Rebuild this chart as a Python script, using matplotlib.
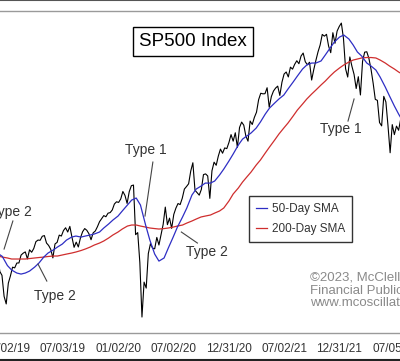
import matplotlib
matplotlib.use('Agg')
import matplotlib.pyplot as plt
import matplotlib.dates as mdates
from matplotlib.lines import Line2D
import pandas as pd

plt.rcParams['font.family'] = ['Liberation Sans', 'DejaVu Sans']

# weekly S&P 500 readings (Friday slots)
close_2018 = [2760, 2633, 2600, 2417, 2351]
close_2019 = [2532, 2596, 2671, 2665,
              2707, 2708, 2776, 2793,
              2804, 2743, 2822, 2801, 2834,
              2893, 2907, 2905, 2940,
              2946, 2881, 2860, 2826, 2752,
              2873, 2887, 2950, 2942,
              2990, 3014, 2977, 3026,
              2932, 2844, 2889, 2847, 2926,
              2979, 3007, 2992, 2962,
              2910, 2970, 2986, 3023,
              3067, 3093, 3120, 3110, 3141,
              3146, 3169, 3221, 3240]
close_2020 = [3235, 3265, 3330, 3295, 3226,
              3328, 3380, 3386, 2954,
              2972, 2711, 2237, 2541,
              2489, 2790, 2875, 2837,
              2831, 2930, 2864, 2955, 3044,
              3194, 3041, 3098, 3009,
              3130, 3185, 3225, 3216, 3271,
              3351, 3373, 3397, 3508,
              3580, 3341, 3319, 3298,
              3348, 3477, 3483, 3465, 3270,
              3510, 3585, 3558, 3638,
              3699, 3663, 3709, 3703]
close_2021 = [3756, 3825, 3768, 3841, 3714,
              3887, 3934, 3907, 3811,
              3768, 3943, 3913, 3975,
              4020, 4129, 4185, 4180, 4181,
              4233, 4063, 4156, 4204,
              4230, 4247, 4166, 4281,
              4352, 4370, 4327, 4412, 4395,
              4437, 4468, 4442, 4509,
              4535, 4459, 4433, 4455,
              4300, 4391, 4471, 4545, 4605,
              4697, 4682, 4698, 4595,
              4538, 4712, 4620, 4726, 4766]
close_2022 = [4796, 4663, 4398, 4326,
              4501, 4419, 4349, 4226,
              4329, 4170, 4463, 4543,
              4546, 4488, 4393, 4272, 4132,
              4123, 3930, 3901, 4158,
              4109, 3901, 3667, 3912,
              3825, 3899, 3863, 3962]

# moving averages read at the 1st and 15th of each month
sma50 = [2790, 2765,
         2685, 2646, 2620, 2611, 2620, 2637, 2672, 2707, 2759, 2794, 2820, 2846,
         2872, 2907, 2933, 2942, 2933, 2942, 2951, 2960, 2977, 3012, 3047, 3081,
         3116, 3160, 3212, 3255, 3273, 3212, 3038, 2907, 2785, 2724, 2751, 2838,
         2933, 3020, 3108, 3186, 3299, 3351, 3377, 3403, 3403, 3421, 3473, 3525,
         3595, 3656, 3734, 3786, 3813, 3839, 3882, 3935, 4004, 4056, 4100, 4135,
         4169, 4222, 4283, 4335, 4396, 4431, 4448, 4448, 4466, 4518, 4579, 4631,
         4674, 4692, 4657, 4605, 4544, 4509, 4448, 4422, 4387, 4326, 4239, 4161,
         4074, 4004, 3926]
sma200 = [2768, 2759,
          2751, 2742, 2742, 2742, 2742, 2746, 2751, 2755, 2759, 2764, 2768, 2768,
          2777, 2785, 2794, 2803, 2816, 2829, 2846, 2864, 2881, 2899, 2925, 2951,
          2977, 3003, 3029, 3038, 3038, 3029, 3020, 3012, 3007, 3003, 3007, 3012,
          3020, 3029, 3038, 3055, 3073, 3090, 3108, 3116, 3125, 3142, 3160, 3186,
          3247, 3308, 3360, 3412, 3456, 3499, 3560, 3604, 3665, 3717, 3778, 3830,
          3882, 3926, 3987, 4039, 4091, 4135, 4178, 4213, 4257, 4291, 4335, 4370,
          4405, 4431, 4457, 4474, 4483, 4492, 4496, 4496, 4492, 4474, 4448, 4422,
          4396, 4370, 4344]

tick_dates = ['2019-01-02', '2019-07-03', '2020-01-02', '2020-07-02',
              '2020-12-31', '2021-07-02', '2021-12-31', '2022-07-05']

close = close_2018 + close_2019 + close_2020 + close_2021 + close_2022
weeks = pd.date_range('2018-11-30', periods=len(close), freq='W-FRI')
half_months = pd.date_range('2018-12-01', periods=len(sma50), freq='SMS')

fig = plt.figure(figsize=(4.0, 3.61), dpi=100)
ax = fig.add_axes([0, 28 / 361, 1, 322 / 361])

ax.plot(weeks, close, color='black', lw=0.8)
ax.plot(half_months, sma200, color='#cf2e2e', lw=0.9, label='200-Day SMA')
ax.plot(half_months, sma50, color='#2e2ec4', lw=0.9, label='50-Day SMA')

ax.set_xlim(pd.Timestamp('2018-12-07 12:00'), pd.Timestamp('2022-07-19 14:00'))
ax.set_ylim(2098, 4901)

ax.set_xticks(pd.to_datetime(tick_dates))
ax.xaxis.set_major_formatter(mdates.DateFormatter('%m/%d/%y'))
ax.tick_params(axis='x', length=0, pad=7, labelsize=8.5, labelcolor='#333333')
ax.set_yticks([])
for side in ['left', 'right']:
    ax.spines[side].set_visible(False)
for side in ['top', 'bottom']:
    ax.spines[side].set_color('#9a9a9a')
    ax.spines[side].set_linewidth(1.0)

# outer frame lines of the cropped picture
fig.add_artist(Line2D([0, 1], [0.999, 0.999], transform=fig.transFigure, color='#555555', lw=1.5))
fig.add_artist(Line2D([0, 1], [0.002, 0.002], transform=fig.transFigure, color='#222222', lw=1.5))

fig.text(0.482, 0.884, 'SP500 Index', fontsize=13.5, ha='center', va='center',
         bbox=dict(boxstyle='square,pad=0.32', fc='white', ec='black', lw=1))

notes = [
    ('Type 1', '2020-04-02', 3691, '2020-04-25', 3586, '2020-03-30', 3116),
    ('Type 1', '2022-01-06', 3874, '2022-01-29', 3943, '2022-02-18', 4135),
    ('Type 2', '2019-01-12', 3151, '2019-01-19', 3073, '2018-12-21', 2829),
    ('Type 2', '2019-06-07', 2420, '2019-05-11', 2550, '2019-04-12', 2698),
    ('Type 2', '2020-10-22', 2803, '2020-09-19', 2881, '2020-07-28', 2977),
]
for label, tx, ty, ax0, ay0, ax1, ay1 in notes:
    ax.text(pd.Timestamp(tx), ty, label, fontsize=10, color='#333333',
            ha='center', va='center')
    ax.plot([pd.Timestamp(ax0), pd.Timestamp(ax1)], [ay0, ay1], color='#444444', lw=0.8)

handles, labels = ax.get_legend_handles_labels()
leg = ax.legend(handles[::-1], labels[::-1], loc='upper left',
                bbox_to_anchor=(249 / 400, 1 - 196 / 361), bbox_transform=fig.transFigure,
                fontsize=8.5, frameon=True, fancybox=False, handlelength=0.9,
                handletextpad=0.45, borderpad=0.6, labelspacing=0.65, borderaxespad=0)
leg.get_frame().set_edgecolor('black')
leg.get_frame().set_linewidth(1.0)
for t in leg.get_texts():
    t.set_color('#333333')

fig.text(310 / 400, 1 - 272 / 361, '\u00a92023, McClellan\nFinancial Publications\nwww.mcoscillator.com',
         fontsize=9.5, color='#8a8a8a', ha='left', va='top', linespacing=1.08)

fig.savefig('out.png', dpi=100, facecolor='white')
